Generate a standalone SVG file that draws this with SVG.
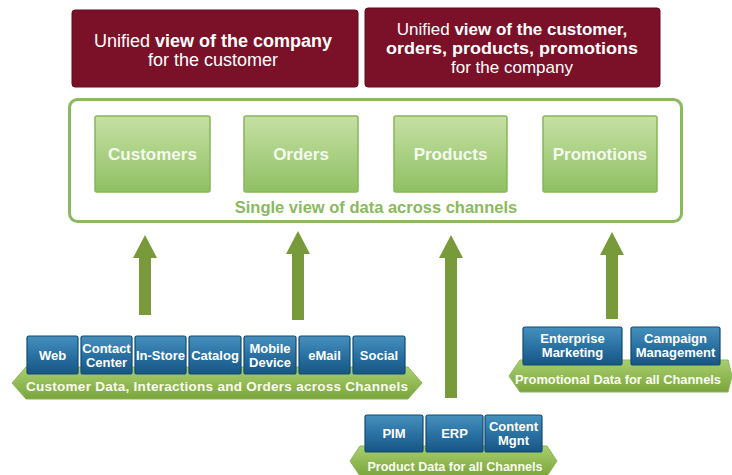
<svg xmlns="http://www.w3.org/2000/svg" width="732" height="475" viewBox="0 0 732 475">
<defs>
<linearGradient id="gGreen" x1="0" y1="0" x2="0" y2="1"><stop offset="0" stop-color="#c6e0a4"/><stop offset="1" stop-color="#8fc063"/></linearGradient>
<linearGradient id="gBlue" x1="0" y1="0" x2="0" y2="1"><stop offset="0" stop-color="#4690bd"/><stop offset="0.5" stop-color="#2a72a3"/><stop offset="1" stop-color="#175584"/></linearGradient>
<linearGradient id="gBand" x1="0" y1="0" x2="0" y2="1"><stop offset="0" stop-color="#a9cf6f"/><stop offset="1" stop-color="#7aa53b"/></linearGradient>
<style>
.top{fill:#7b1128;stroke:#5e0c1e;stroke-width:1}
.tt{font-family:"Liberation Sans",Arial,sans-serif;font-size:18px;fill:#ffffff;text-anchor:middle}
.tr{font-size:17px}
.b{font-weight:bold}
.ent{fill:url(#gGreen);stroke:#86b65a;stroke-width:1.5}
.et{font-family:"Liberation Sans",Arial,sans-serif;font-size:17px;font-weight:bold;fill:#f4faee;text-anchor:middle}
.src{fill:url(#gBlue);stroke:#124a72;stroke-width:1.2}
.st{font-family:"Liberation Sans",Arial,sans-serif;font-size:13px;font-weight:bold;fill:#ffffff;text-anchor:middle}
.band{fill:url(#gBand);stroke:#8ab55a;stroke-width:1}
.bt{font-family:"Liberation Sans",Arial,sans-serif;font-size:13.5px;font-weight:bold;fill:#fbfdf0;text-anchor:middle}
.arrow{fill:#789a3a}
</style>
</defs>
<rect width="732" height="475" fill="#ffffff"/>

<g id="view-company">
<rect class="top" x="72" y="10" width="286" height="77" rx="3"/>
<text class="tt" x="213" y="47">Unified <tspan class="b">view of the company</tspan></text>
<text class="tt" x="213" y="66">for the customer</text>
</g>
<g id="view-customer">
<rect class="top" x="365" y="8" width="295" height="79" rx="3"/>
<text class="tt tr" x="512" y="35">Unified <tspan class="b">view of the customer,</tspan></text>
<text class="tt tr b" x="512" y="54" textLength="252" lengthAdjust="spacingAndGlyphs">orders, products, promotions</text>
<text class="tt tr" x="512" y="73">for the company</text>
</g>

<g id="single-view">
<rect x="69.5" y="99.5" width="612" height="122" rx="8" fill="#ffffff" stroke="#8ab960" stroke-width="3"/>
<text x="376" y="213" font-family="'Liberation Sans',Arial,sans-serif" font-size="16.5" font-weight="bold" fill="#8ab960" text-anchor="middle">Single view of data across channels</text>
</g>
<g id="customers"><rect class="ent" x="95" y="116" width="115" height="76" rx="2"/><text class="et" x="152.5" y="160">Customers</text></g>
<g id="orders"><rect class="ent" x="244" y="116" width="114" height="76" rx="2"/><text class="et" x="301" y="160">Orders</text></g>
<g id="products"><rect class="ent" x="394" y="116" width="113" height="76" rx="2"/><text class="et" x="450.5" y="160">Products</text></g>
<g id="promotions"><rect class="ent" x="543" y="116" width="114" height="76" rx="2"/><text class="et" x="600" y="160">Promotions</text></g>

<g id="connectors">
<path class="arrow" d="M139,315 V258 H133 L145,235 L157,258 H151 V315 Z"/>
<path class="arrow" d="M292,320 V254 H286 L298,231 L310,254 H304 V320 Z"/>
<path class="arrow" d="M445,398 V258 H439 L451,235 L463,258 H457 V398 Z"/>
<path class="arrow" d="M606,319 V255 H600 L612,232 L624,255 H618 V319 Z"/>
</g>

<g id="customer-channels">
<path class="band" d="M12,383 L26,367 H408 L422,383 L408,399 H26 Z"/>
<g id="web"><rect class="src" x="27" y="336" width="51" height="38" rx="2"/><text class="st" x="52.5" y="360">Web</text></g>
<g id="contact-center"><rect class="src" x="81" y="336" width="51" height="38" rx="2"/><text class="st" x="106.5" y="353">Contact</text><text class="st" x="106.5" y="367">Center</text></g>
<g id="in-store"><rect class="src" x="135" y="336" width="51" height="38" rx="2"/><text class="st" x="160.5" y="360">In-Store</text></g>
<g id="catalog"><rect class="src" x="189" y="336" width="52" height="38" rx="2"/><text class="st" x="215" y="360">Catalog</text></g>
<g id="mobile-device"><rect class="src" x="244" y="336" width="52" height="38" rx="2"/><text class="st" x="270" y="353">Mobile</text><text class="st" x="270" y="367">Device</text></g>
<g id="email"><rect class="src" x="299" y="336" width="51" height="38" rx="2"/><text class="st" x="324.5" y="360">eMail</text></g>
<g id="social"><rect class="src" x="353" y="336" width="52" height="38" rx="2"/><text class="st" x="379" y="360">Social</text></g>
<text class="bt" x="217" y="391" textLength="382" lengthAdjust="spacing">Customer Data, Interactions and Orders across Channels</text>
</g>

<g id="promotional-channels">
<path class="band" d="M509,376 L520,360 H728 L732,376 L728,392 H520 Z"/>
<g id="enterprise-marketing"><rect class="src" x="523" y="327" width="99" height="38" rx="2"/><text class="st" x="572.5" y="343">Enterprise</text><text class="st" x="572.5" y="357">Marketing</text></g>
<g id="campaign-management"><rect class="src" x="631" y="327" width="89" height="38" rx="2"/><text class="st" x="675.5" y="343">Campaign</text><text class="st" x="675.5" y="357">Management</text></g>
<text class="bt" x="618" y="384" textLength="206" lengthAdjust="spacingAndGlyphs">Promotional Data for all Channels</text>
</g>

<g id="product-channels">
<path class="band" d="M350,461 L360,446 H547 L557,461 L547,476 H360 Z"/>
<g id="pim"><rect class="src" x="365" y="415" width="58" height="37" rx="2"/><text class="st" x="394" y="438">PIM</text></g>
<g id="erp"><rect class="src" x="426" y="415" width="57" height="37" rx="2"/><text class="st" x="454.5" y="438">ERP</text></g>
<g id="content-mgnt"><rect class="src" x="485" y="415" width="57" height="37" rx="2"/><text class="st" x="513.5" y="431">Content</text><text class="st" x="513.5" y="445">Mgnt</text></g>
<text class="bt" x="455" y="471" textLength="175" lengthAdjust="spacingAndGlyphs">Product Data for all Channels</text>
</g>
</svg>
